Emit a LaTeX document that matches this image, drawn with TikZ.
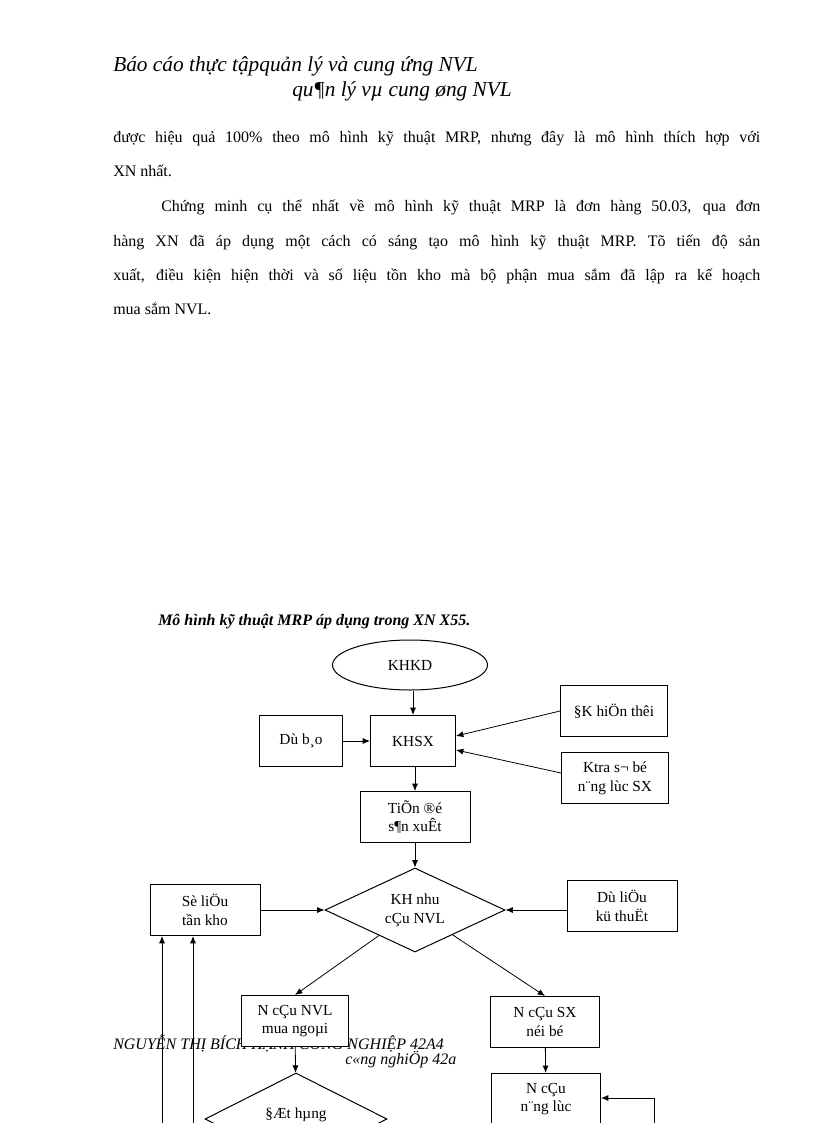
\documentclass[tikz,border=0pt]{standalone}
\usepackage{fontspec}
\setmainfont{Liberation Serif}
\usetikzlibrary{arrows.meta,shapes.geometric}

\begin{document}
\begin{tikzpicture}[x=0.75pt,y=-0.75pt,
   box/.style={draw, line width=.75pt, fill=white, minimum width=#1,
      minimum height=38.25pt, align=center, inner sep=1pt,
      font=\fontsize{11.5}{14}\selectfont},
   box/.default=82.5pt,
   rhomb/.style={diamond, draw, line width=.75pt, fill=white, aspect=2.1,
      inner sep=1pt, align=center, font=\fontsize{11.5}{14}\selectfont},
   link/.style={-{Latex[length=5.5pt,width=4.5pt]}, line width=.6pt},
   txt/.style={anchor=base west, inner sep=0pt, font=\fontsize{12}{14}\selectfont}]

   \useasboundingbox (0,0) rectangle (816,1123);

   % page header
   \node[txt, font=\fontsize{16}{19}\selectfont\itshape] (head1) at (113,72) {Báo cáo thực tậpquản lý và cung ứng NVL};
   \node[txt, font=\fontsize{16}{19}\selectfont\itshape] (head2) at (292,97) {qu¶n lý vµ cung øng NVL};

   % body text
   \node[txt] (line1) at (113,143) {\makebox[485.25pt][s]{được hiệu quả 100\% theo mô hình kỹ thuật MRP, nhưng đây là mô hình thích hợp với}};
   \node[txt] (line2) at (113,177) {XN nhất.};
   \node[txt] (line3) at (161,212) {\makebox[449.25pt][s]{Chứng minh cụ thể nhất về mô hình kỹ thuật MRP là đơn hàng 50.03, qua đơn}};
   \node[txt] (line4) at (113,246) {\makebox[485.25pt][s]{hàng XN đã áp dụng một cách có sáng tạo mô hình kỹ thuật MRP. Tõ tiến độ sản}};
   \node[txt] (line5) at (113,280) {\makebox[485.25pt][s]{xuất, điều kiện hiện thời và số liệu tồn kho mà bộ phận mua sắm đã lập ra kế hoạch}};
   \node[txt] (line6) at (113,314) {mua sắm NVL.};

   \node[txt, font=\fontsize{12}{14}\selectfont\bfseries\itshape] (caption) at (158,625) {Mô hình kỹ thuật MRP áp dụng trong XN X55.};

   % footer (under the boxes)
   \node[txt, font=\fontsize{12}{14}\selectfont\itshape] (foot1) at (113,1049) {NGUYỄN THỊ BÍCH HẠNH CÔNG NGHIỆP 42A4};
   \node[txt, font=\fontsize{12}{14}\selectfont\itshape] (foot2) at (345,1064) {c«ng nghiÖp 42a};

   % diagram
   \node[ellipse, draw, line width=.75pt, minimum width=116.25pt, minimum height=37.5pt,
      font=\fontsize{11.5}{14}\selectfont] (khkd) at (410,665) {KHKD};
   \node[box=63.75pt] (khsx) at (413,741) {KHSX};
   \node[box=62.25pt] (dubao) at (301,741) {Dù b¸o};
   \node[box=80.25pt] (dkht) at (614,711) {§K hiÖn thêi};
   \node[box=80.25pt] (ktra) at (615,778) {Ktra s¬ bé\\n¨ng lùc SX};
   \node[box] (tiendo) at (415,817) {TiÕn ®é\\s¶n xuÊt};
   \node[rhomb, minimum width=135pt, minimum height=63pt] (khnvl) at (415,910) {KH nhu\\cÇu NVL};
   \node[box] (soton) at (205,910) {Sè liÖu\\tần kho};
   \node[box] (dukt) at (622,906) {Dù liÖu\\kü thuËt};
   \node[box=80.25pt] (muangoai) at (295,1021) {N cÇu NVL\\mua ngoµi};
   \node[box=81.75pt] (noibo) at (545,1022) {N cÇu SX\\néi bé};
   \node[box=81.75pt] (nangluc) at (546,1099) {N cÇu\\n¨ng lùc};
   \node[rhomb, minimum width=136.5pt, minimum height=69pt, text depth=9pt] (dathang) at (296,1119) {§Æt hµng};

   \coordinate (up1) at (162,1140);
   \coordinate (up2) at (193,1140);
   \coordinate (back1) at (654,1140);
   \coordinate (back2) at (654,1098);

   \draw[link] (khkd.south -| khsx) -- (khsx);
   \draw[link] (dubao) -- (khsx);
   \draw[link] (dkht.west) -- ([yshift=3.75pt]khsx.east);
   \draw[link] ([yshift=3.75pt]ktra.west) -- ([yshift=-6.75pt]khsx.east);
   \draw[link] (khsx.south -| tiendo) -- (tiendo);
   \draw[link] (tiendo) -- (khnvl);
   \draw[link] (soton) -- (khnvl);
   \draw[link] (dukt.west |- khnvl) -- (khnvl.east);
   \draw[link] (khnvl) -- (muangoai.north);
   \draw[link] (khnvl) -- (noibo.north);
   \draw[link] (muangoai) -- (dathang);
   \draw[link] (noibo) -- (nangluc);
   \draw[link] (up1) -- (up1 |- soton.south);
   \draw[link] (up2) -- (up2 |- soton.south);
   \draw[link] (back1) -- (back2) -- (nangluc.east |- back2);

\end{tikzpicture}
\end{document}
